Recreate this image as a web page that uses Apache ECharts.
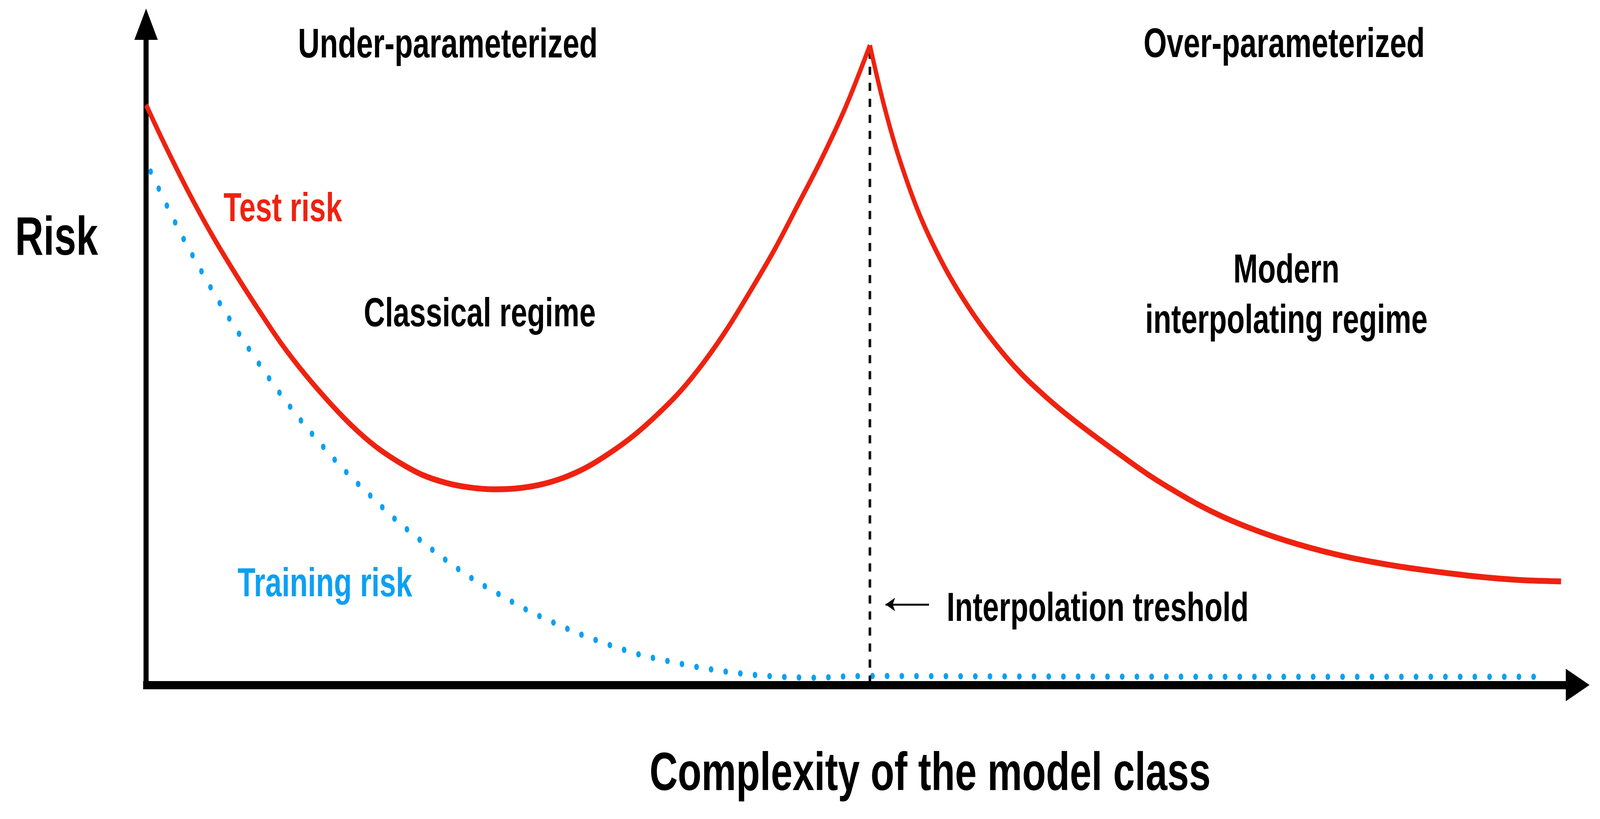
<!DOCTYPE html>
<html>
<head>
<meta charset="UTF-8">
<title>Double descent risk curve</title>
<script src="https://cdn.jsdelivr.net/npm/echarts@6.0.0/dist/echarts.min.js"></script>
<style>
  html, body { margin: 0; padding: 0; background: #fff; overflow: hidden; }
  #view { width: 5663px; height: 2096px; transform-origin: 0 0; }
</style>
</head>
<body>
<div id="view"></div>
<script>
// complexity (0..100) against risk (0..100)
var testX = [0.0, 1.30, 2.94, 4.58, 6.22, 7.85, 9.47, 11.11, 12.75, 14.39, 16.03, 17.67, 19.30, 20.94, 22.58, 24.22,
             25.86, 27.50, 29.14, 30.78, 32.42, 34.06, 35.70, 37.34, 38.98, 40.62, 42.26, 43.90, 45.54, 47.18, 48.87, 50.56,
             51.55, 52.61, 54.08, 55.81, 57.57, 59.33, 61.09, 62.85, 64.61, 66.37, 68.13, 69.89, 71.65, 73.41, 75.17,
             76.93, 78.69, 80.45, 82.21, 83.97, 85.73, 87.49, 89.25, 91.01, 92.77, 94.53, 96.29, 98.05, 98.84];
var testY = [87.8, 81.8, 74.7, 68.2, 62.3, 56.8, 51.6, 47.0, 42.9, 39.2, 36.1, 33.7, 31.8, 30.6, 29.9, 29.62,
             29.75, 30.3, 31.35, 32.95, 35.15, 37.75, 40.9, 44.5, 48.9, 54.0, 59.8, 65.9, 72.7, 79.6, 87.5, 96.8,
             87.7, 79.7, 70.9, 63.1, 56.8, 51.6, 47.2, 43.6, 40.4, 37.5, 34.7, 32.0, 29.6, 27.4, 25.5,
             23.9, 22.5, 21.3, 20.25, 19.35, 18.6, 17.95, 17.4, 16.9, 16.45, 16.1, 15.85, 15.72, 15.67];

var trainX = [0.32, 1.44, 2.62, 3.87, 5.17, 6.51, 7.89, 9.33, 10.83, 12.39, 13.99, 15.69, 17.39, 19.16, 20.94, 22.79, 24.67, 26.56,
              28.50, 30.43, 32.45, 34.46, 36.49, 38.54, 40.56, 42.61, 44.66, 46.75, 48.85, 50.94, 58.87, 78.61, 97.22];
var trainY = [77.7, 72.6, 67.5, 62.6, 57.7, 53.1, 48.6, 44.2, 40.0, 36.0, 32.2, 28.6, 25.1, 21.9, 18.9, 16.1, 13.7, 11.4,
              9.4, 7.6, 6.0, 4.6, 3.6, 2.7, 2.0, 1.5, 1.2, 1.1, 1.3, 1.36, 1.3, 1.24, 1.24];

var thresholdTop = 96.0;
var thresholdBottom = 0.5;
var arrowFrom = [54.69, 12.18];
var arrowTo = [51.65, 12.18];

var labels = ['Risk', 'Complexity of the model class', 'Under-parameterized', 'Over-parameterized', 'Test risk',
              'Classical regime', 'Modern', 'interpolating regime', 'Training risk', 'Interpolation treshold'];

var W = 5663, H = 2096;
var RED = '#ee2210';
var BLUE = '#0ba0f2';
var FONT = '"Liberation Sans", Arial, Helvetica, sans-serif';

// the picture is drawn at the reference size and fitted to the window
var box = document.getElementById('view');
box.style.transform = 'scale(' + (window.innerWidth / W) + ',' + (window.innerHeight / H) + ')';

var chart = echarts.init(box);

function pairs(xs, ys, a, b) {
    var out = [];
    for (var i = a; i <= b; i++) out.push([xs[i], ys[i]]);
    return out;
}

var peak = 0;
for (var i = 1; i < testY.length; i++) if (testY[i] > testY[peak]) peak = i;

function label(text, x, y, size, color) {
    return {
        type: 'text', x: x, y: y, silent: true,
        style: {
            text: text, fill: color || '#000', align: 'center', verticalAlign: 'middle',
            font: 'bold ' + size + 'px ' + FONT
        }
    };
}

var option = {
    animation: false,
    backgroundColor: '#fff',
    grid: { left: 517, right: 79, top: 62, bottom: 343 },
    xAxis: {
        type: 'value', min: 0, max: 100,
        axisLine: {
            show: true, symbol: ['none', 'triangle'], symbolSize: [83, 84],
            lineStyle: { color: '#000', width: 21, cap: 'square' }
        },
        axisTick: { show: false }, axisLabel: { show: false }, splitLine: { show: false }
    },
    yAxis: {
        type: 'value', min: 0, max: 100,
        axisLine: {
            show: true, symbol: ['none', 'triangle'], symbolSize: [83, 80],
            lineStyle: { color: '#000', width: 18 }
        },
        axisTick: { show: false }, axisLabel: { show: false }, splitLine: { show: false }
    },
    series: [
        {
            name: 'Training risk', type: 'line', showSymbol: false, smooth: 0.3,
            data: pairs(trainX, trainY, 0, trainX.length - 1),
            lineStyle: { color: BLUE, width: 16, type: [0.5, 51.5], cap: 'round' },
            z: 2
        },
        {
            name: 'threshold', type: 'line', showSymbol: false,
            data: [[testX[peak], thresholdTop], [testX[peak], thresholdBottom]],
            lineStyle: { color: '#111', width: 9, type: [21, 20] },
            markLine: {
                silent: true, symbol: ['none', 'arrow'], symbolSize: [26, 34],
                label: { show: false },
                lineStyle: { color: '#000', width: 5, type: 'solid' },
                data: [[{ coord: arrowFrom }, { coord: arrowTo }]]
            },
            z: 3
        },
        {
            name: 'Test risk', type: 'line', showSymbol: false, smooth: 0.35,
            data: pairs(testX, testY, 0, peak),
            lineStyle: { color: RED, width: 15 },
            z: 4
        },
        {
            name: 'Test risk (right)', type: 'line', showSymbol: false, smooth: 0.35,
            data: pairs(testX, testY, peak, testX.length - 1),
            lineStyle: { color: RED, width: 15 },
            z: 4
        }
    ],
    graphic: [
        label(labels[0], 200, 614, 139),
        label(labels[1], 3292, 1984, 138),
        label(labels[2], 1585, 118, 106),
        label(labels[3], 4545, 117, 106),
        label(labels[4], 1001, 537, 104, RED),
        label(labels[5], 1698, 806, 104),
        label(labels[6], 4553, 694, 104),
        label(labels[7], 4553, 823, 104),
        label(labels[8], 1150, 1497, 104, BLUE),
        label(labels[9], 3885, 1560, 104)
    ]
};

chart.setOption(option);
</script>
</body>
</html>
